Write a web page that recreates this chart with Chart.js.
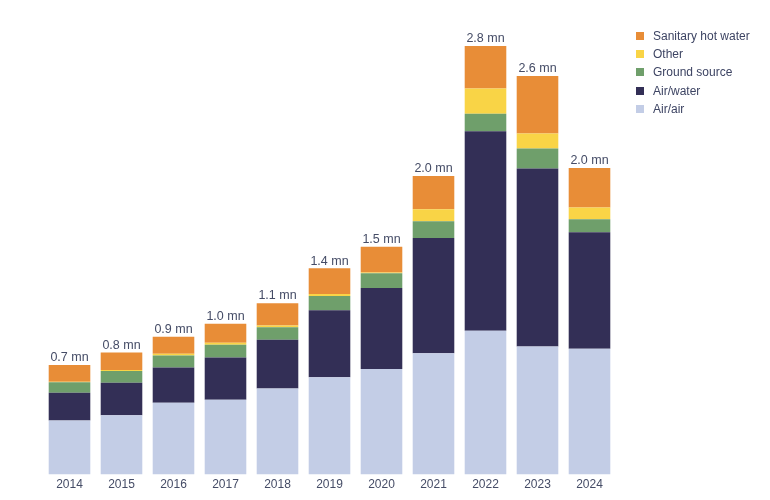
<!DOCTYPE html>
<html>
<head>
<meta charset="utf-8">
<script src="https://cdn.jsdelivr.net/npm/chart.js@4"></script>
<style>
  html, body { margin: 0; padding: 0; background: #fff; }
  #wrap { position: relative; width: 770px; height: 500px; }
  #legend { position: absolute; left: 636px; top: 27px; font: 12px 'Liberation Sans', Arial, sans-serif; color: #3d4463; }
  #legend div { height: 18.2px; line-height: 18px; white-space: nowrap; }
  #legend span { display: inline-block; width: 8px; height: 8px; margin-right: 9px; vertical-align: -0px; }
</style>
</head>
<body>
<div id="wrap">
  <canvas id="chart" width="770" height="500"></canvas>
  <div id="legend"></div>
</div>
<script>
// 연도별 설치 대수 (백만 대)
const years = ['2014', '2015', '2016', '2017', '2018', '2019', '2020', '2021', '2022', '2023', '2024'];
const airAir = [0.353, 0.388, 0.469, 0.489, 0.562, 0.636, 0.689, 0.793, 0.940, 0.837, 0.822];
const airWater = [0.181, 0.212, 0.231, 0.276, 0.319, 0.437, 0.529, 0.752, 1.303, 1.162, 0.761];
const groundSource = [0.070, 0.076, 0.078, 0.083, 0.082, 0.093, 0.097, 0.110, 0.114, 0.131, 0.085];
const other = [0.003, 0.008, 0.011, 0.013, 0.011, 0.013, 0.005, 0.078, 0.165, 0.098, 0.076];
const sanitaryHotWater = [0.109, 0.113, 0.112, 0.125, 0.146, 0.168, 0.168, 0.218, 0.277, 0.375, 0.259];
const totalLabels = ['0.7 mn', '0.8 mn', '0.9 mn', '1.0 mn', '1.1 mn', '1.4 mn', '1.5 mn', '2.0 mn', '2.8 mn', '2.6 mn', '2.0 mn'];

const series = [
    { label: 'Air/air', data: airAir, color: '#c3cde6' },
    { label: 'Air/water', data: airWater, color: '#332f56' },
    { label: 'Ground source', data: groundSource, color: '#6f9f6b' },
    { label: 'Other', data: other, color: '#f9d446' },
    { label: 'Sanitary hot water', data: sanitaryHotWater, color: '#e88d37' }
];

const FONT = "'Liberation Sans', Arial, sans-serif";
const TEXT = '#454c66';

// 막대 위 합계 라벨
const totalsPlugin = {
    id: 'totals',
    afterDatasetsDraw(chart) {
        const ctx = chart.ctx;
        const meta = chart.getDatasetMeta(chart.data.datasets.length - 1);
        ctx.save();
        ctx.font = '12.5px ' + FONT;
        ctx.fillStyle = TEXT;
        ctx.textAlign = 'center';
        ctx.textBaseline = 'bottom';
        meta.data.forEach((bar, i) => {
            ctx.fillText(totalLabels[i], bar.x, bar.y - 1);
        });
        ctx.restore();
    }
};

new Chart(document.getElementById('chart'), {
    type: 'bar',
    data: {
        labels: years,
        datasets: series.map(s => ({
            label: s.label,
            data: s.data,
            backgroundColor: s.color,
            borderWidth: 0,
            barPercentage: 0.8,
            categoryPercentage: 1.0
        }))
    },
    options: {
        responsive: false,
        animation: false,
        layout: { padding: { left: 43.5, right: 154.5, top: 15.3, bottom: 5 } },
        scales: {
            x: {
                stacked: true,
                grid: { display: false, drawTicks: false },
                border: { display: false },
                ticks: { padding: 3, color: TEXT, font: { family: FONT, size: 12 } }
            },
            y: {
                stacked: true,
                display: false,
                min: 0,
                max: 3.0
            }
        },
        plugins: {
            legend: { display: false },
            tooltip: { enabled: false }
        }
    },
    plugins: [totalsPlugin]
});

// 범례 (위에서부터 역순)
const legend = document.getElementById('legend');
series.slice().reverse().forEach(s => {
    const row = document.createElement('div');
    row.innerHTML = '<span style="background:' + s.color + '"></span>' + s.label;
    legend.appendChild(row);
});
</script>
</body>
</html>
